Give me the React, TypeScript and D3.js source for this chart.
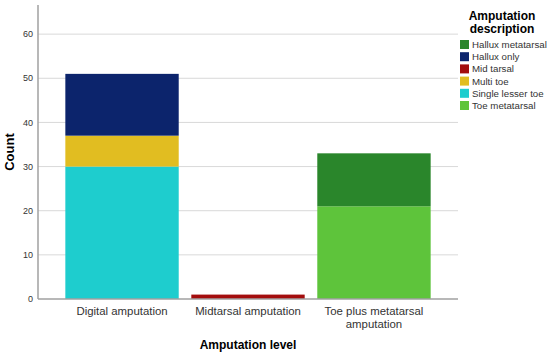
import React from "react";
import * as d3 from "d3";

const levels = ["Digital amputation", "Midtarsal amputation", "Toe plus metatarsal amputation"];
const levelLines = [["Digital amputation"], ["Midtarsal amputation"], ["Toe plus metatarsal", "amputation"]];
const descriptions = ["Hallux metatarsal", "Hallux only", "Mid tarsal", "Multi toe", "Single lesser toe", "Toe metatarsal"];
const colors = ["#2a862b", "#0c246c", "#a30d0d", "#e1bd21", "#1ecdce", "#5ec43b"];
// stacking order (bottom to top) per level
const stackOrder = ["Single lesser toe", "Multi toe", "Toe metatarsal", "Mid tarsal", "Hallux only", "Hallux metatarsal"];
const counts: { [k: string]: number[] } = {
  "Hallux metatarsal": [0, 0, 12],
  "Hallux only": [14, 0, 0],
  "Mid tarsal": [0, 1, 0],
  "Multi toe": [7, 0, 0],
  "Single lesser toe": [30, 0, 0],
  "Toe metatarsal": [0, 0, 21],
};
const yTicks = [0, 10, 20, 30, 40, 50, 60];

const W = 550, H = 354;
const left = 38, right = 458, top = 5, bottom = 299;

export default function App() {
  const x = d3.scaleBand<string>().domain(levels).range([left, right]).paddingInner(0.1).paddingOuter(0.217);
  const y = d3.scaleLinear().domain([0, 66.6]).range([bottom, top]);
  const color = d3.scaleOrdinal<string, string>().domain(descriptions).range(colors);

  const rows = levels.map((l, i) => {
    const r: any = { level: l };
    stackOrder.forEach((d) => (r[d] = counts[d][i]));
    return r;
  });
  const series = d3.stack<any>().keys(stackOrder)(rows);
  const font = "Arial, 'Liberation Sans', sans-serif";

  return (
    <svg width={W} height={H} style={{ position: "absolute", left: 0, top: 0, background: "#fff" }} fontFamily={font}>
      {yTicks.filter((t) => t > 0).map((t) => (
        <line key={t} x1={left} x2={right} y1={y(t)} y2={y(t)} stroke="#d9d9d9" strokeWidth={1} />
      ))}
      {series.map((s) =>
        s.map((d, i) =>
          d[1] - d[0] > 0 ? (
            <rect key={s.key + i} x={x(levels[i])} width={x.bandwidth()} y={y(d[1])} height={y(d[0]) - y(d[1])} fill={color(s.key)} />
          ) : null
        )
      )}
      <line x1={left} x2={left} y1={top} y2={bottom} stroke="#a0a0a0" strokeWidth={1.5} />
      <line x1={left} x2={right} y1={bottom} y2={bottom} stroke="#a0a0a0" strokeWidth={1.5} />
      {yTicks.map((t) => (
        <text key={t} x={33} y={y(t)} dy="0.35em" textAnchor="end" fontSize={9} fill="#333">{t}</text>
      ))}
      {levels.map((l, i) => (
        <text key={l} x={(x(l) as number) + x.bandwidth() / 2} y={315} textAnchor="middle" fontSize={11.4} fill="#333">
          {levelLines[i].map((ln, j) => (
            <tspan key={j} x={(x(l) as number) + x.bandwidth() / 2} dy={j === 0 ? 0 : 12.5}>{ln}</tspan>
          ))}
        </text>
      ))}
      <text x={248} y={349} textAnchor="middle" fontSize={12} fontWeight="bold" fill="#000">Amputation level</text>
      <text transform={`translate(14,152) rotate(-90)`} textAnchor="middle" fontSize={13} fontWeight="bold" fill="#000">Count</text>
      <text x={502} y={20} textAnchor="middle" fontSize={12} fontWeight="bold" fill="#000">Amputation</text>
      <text x={502} y={33} textAnchor="middle" fontSize={12} fontWeight="bold" fill="#000">description</text>
      {descriptions.map((d, i) => (
        <g key={d} transform={`translate(460,${40 + i * 12.2})`}>
          <rect width={9} height={9} fill={color(d)} />
          <text x={12} y={4.5} dy="0.35em" fontSize={9.7} fill="#333">{d}</text>
        </g>
      ))}
    </svg>
  );
}
